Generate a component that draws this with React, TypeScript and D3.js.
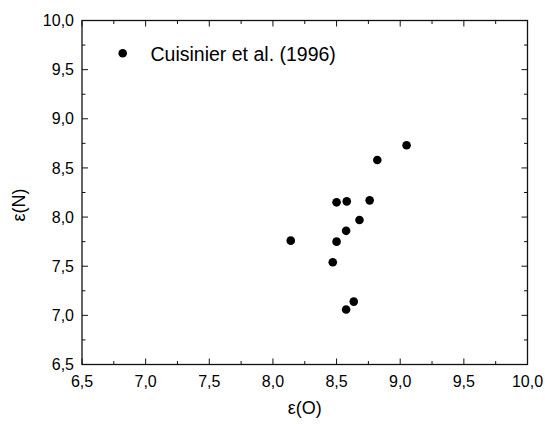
import React from "react";
import * as d3 from "d3";

const seriesName = "Cuisinier et al. (1996)";
const epsO = [9.05, 8.82, 8.5, 8.58, 8.76, 8.68, 8.575, 8.14, 8.5, 8.47, 8.635, 8.575];
const epsN = [8.73, 8.58, 8.15, 8.16, 8.17, 7.97, 7.86, 7.76, 7.75, 7.54, 7.14, 7.06];
const majorTicks = [6.5, 7.0, 7.5, 8.0, 8.5, 9.0, 9.5, 10.0];
const minorTicks = [6.75, 7.25, 7.75, 8.25, 8.75, 9.25, 9.75];
const xTitle = "ε(O)";
const yTitle = "ε(N)";

const W = 545;
const H = 424;
const L = 82, R = 527.5, T = 20.5, B = 364.5;
const FONT = "Arial, 'Liberation Sans', Helvetica, sans-serif";
const fmt = (v: number) => v.toFixed(1).replace(".", ",");

export default function App() {
  const x = d3.scaleLinear().domain([6.5, 10]).range([L, R]);
  const y = d3.scaleLinear().domain([6.5, 10]).range([B, T]);
  const maj = 6, mn = 3.5;
  const stroke = "#111";
  return (
    <svg width={W} height={H} style={{ position: "absolute", left: 0, top: 0, background: "#fff" }}>
      <rect x={0} y={0} width={W} height={H} fill="#fff" />
      {majorTicks.map((t, i) => (
        <g key={"mj" + i} stroke={stroke} strokeWidth={1}>
          <line x1={x(t)} x2={x(t)} y1={B} y2={B - maj} />
          <line x1={x(t)} x2={x(t)} y1={T} y2={T + maj} />
          <line x1={L} x2={L + maj} y1={y(t)} y2={y(t)} />
          <line x1={R} x2={R - maj} y1={y(t)} y2={y(t)} />
        </g>
      ))}
      {minorTicks.map((t, i) => (
        <g key={"mn" + i} stroke={stroke} strokeWidth={1}>
          <line x1={x(t)} x2={x(t)} y1={B} y2={B - mn} />
          <line x1={x(t)} x2={x(t)} y1={T} y2={T + mn} />
          <line x1={L} x2={L + mn} y1={y(t)} y2={y(t)} />
          <line x1={R} x2={R - mn} y1={y(t)} y2={y(t)} />
        </g>
      ))}
      <rect x={L} y={T} width={R - L} height={B - T} fill="none" stroke={stroke} strokeWidth={1.3} />
      {majorTicks.map((t, i) => (
        <text key={"xl" + i} x={x(t)} y={387} textAnchor="middle" fontFamily={FONT} fontSize={16} fill="#000">
          {fmt(t)}
        </text>
      ))}
      {majorTicks.map((t, i) => (
        <text key={"yl" + i} x={74} y={y(t) + 5.7} textAnchor="end" fontFamily={FONT} fontSize={16} fill="#000">
          {fmt(t)}
        </text>
      ))}
      <text x={(L + R) / 2} y={414} textAnchor="middle" fontFamily={FONT} fontSize={18} fill="#000">
        {xTitle}
      </text>
      <text
        transform={`translate(25,205) rotate(-90)`}
        textAnchor="middle"
        fontFamily={FONT}
        fontSize={18}
        fill="#000"
      >
        {yTitle}
      </text>
      {epsO.map((v, i) => (
        <circle key={"p" + i} cx={x(v)} cy={y(epsN[i])} r={4.3} fill="#000" />
      ))}
      <circle cx={122.7} cy={53.3} r={4.3} fill="#000" />
      <text x={150.5} y={61} fontFamily={FONT} fontSize={19.5} fill="#000">
        {seriesName}
      </text>
    </svg>
  );
}
